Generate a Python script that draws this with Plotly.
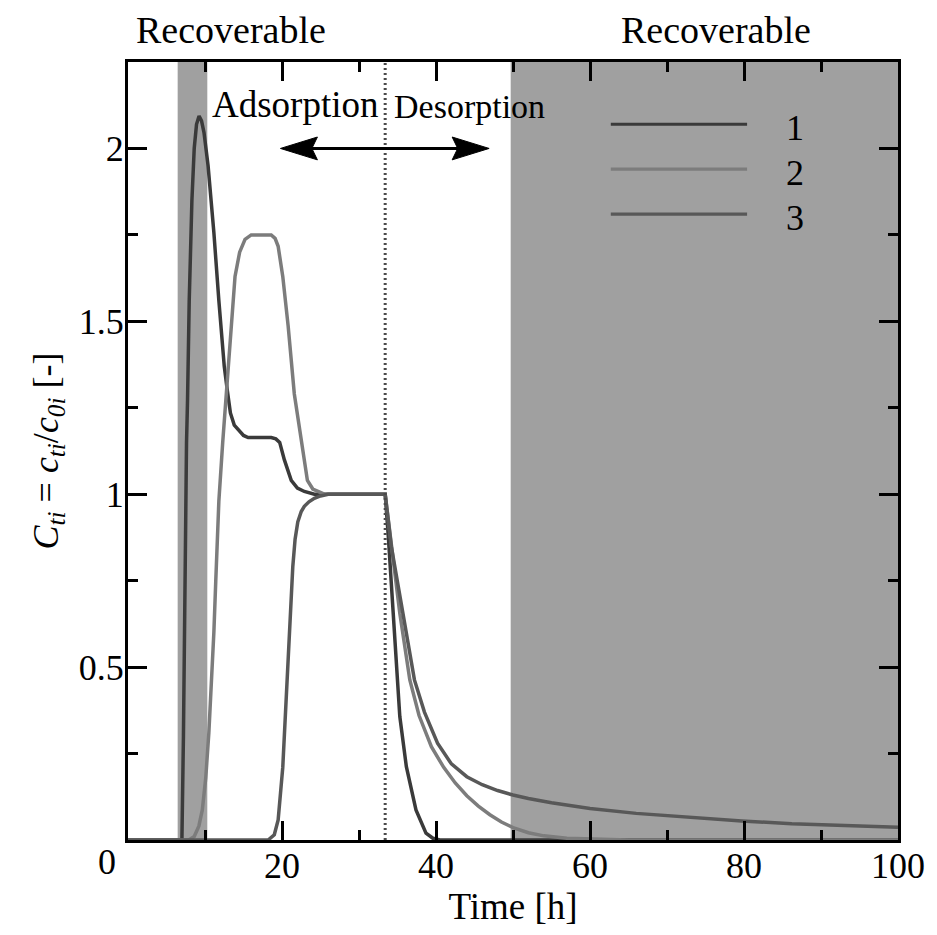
import plotly.graph_objects as go

# Time axis [h] and normalised outlet concentrations C_ti for three components
t1 = [0, 7.0, 7.2, 7.35, 7.45, 7.6, 7.73, 7.95, 8.3, 8.6, 8.9, 9.23, 9.55, 9.87, 10.4,
      11.15, 11.8, 12.5, 12.9, 13.3, 13.8, 14.4, 15.0, 15.6, 18.6, 19.2, 19.7, 20.3,
      21.2, 22.0, 22.9, 24.2, 33.4, 33.8, 34.2, 34.65, 35.3, 36.15, 37.4, 38.7, 39.6,
      40.5, 100]
c1 = [0, 0, 0.30, 0.70, 1.00, 1.15, 1.27, 1.56, 1.85, 2.00, 2.07, 2.094, 2.08, 2.046,
      1.95, 1.757, 1.56, 1.37, 1.30, 1.235, 1.20, 1.185, 1.170, 1.164, 1.164, 1.16,
      1.15, 1.10, 1.04, 1.018, 1.008, 1.0, 1.0, 0.88, 0.743, 0.55, 0.357, 0.212, 0.087,
      0.02, 0.005, 0, 0]

t2 = [0, 7.9, 8.6, 9.2, 9.65, 10.1, 10.5, 10.85, 11.15, 11.4, 11.6, 11.8, 12.3, 12.8,
      13.3, 13.9, 14.5, 15.2, 16.0, 18.6, 19.1, 19.5, 20.1, 20.8, 21.6, 22.5, 23.3,
      24.0, 24.6, 25.5, 33.4, 33.8, 34.2, 35.3, 36.6, 37.8, 39.4, 41.0, 42.5, 44.0,
      45.5, 47.0, 48.5, 50.0, 52.0, 54.0, 57.0, 60.5, 65.0, 100]
c2 = [0, 0, 0.01, 0.04, 0.087, 0.18, 0.31, 0.45, 0.60, 0.75, 0.89, 0.98, 1.15, 1.30,
      1.45, 1.63, 1.70, 1.737, 1.75, 1.75, 1.74, 1.717, 1.63, 1.486, 1.29, 1.15, 1.04,
      1.015, 1.008, 1.0, 1.0, 0.93, 0.849, 0.656, 0.463, 0.36, 0.27, 0.21, 0.165, 0.128,
      0.098, 0.073, 0.052, 0.036, 0.021, 0.012, 0.005, 0.002, 0, 0]

t3 = [0, 18.2, 19.0, 19.5, 20.1, 20.55, 21.0, 21.4, 21.7, 22.05, 22.5, 22.9, 23.5,
      24.2, 25.0, 26.0, 33.4, 33.8, 34.2, 35.7, 37.2, 38.5, 40.2, 42.0, 44.0, 46.0,
      48.0, 50.0, 52.0, 55.0, 60.0, 66.0, 73.3, 79.7, 86.2, 93.0, 100]
c3 = [0, 0, 0.015, 0.058, 0.21, 0.405, 0.60, 0.79, 0.87, 0.92, 0.95, 0.965, 0.978,
      0.988, 0.995, 1.0, 1.0, 0.93, 0.849, 0.656, 0.463, 0.37, 0.28, 0.22, 0.183, 0.16,
      0.143, 0.13, 0.12, 0.108, 0.091, 0.077, 0.065, 0.055, 0.047, 0.042, 0.037]

series_names = ["1", "2", "3"]
series_colors = ["#3a3a3a", "#7c7c7c", "#585858"]

# Shaded "recoverable" windows [h]
recoverable_windows = [(6.45, 10.3), (49.7, 100)]
switch_time = 33.4          # adsorption -> desorption
arrow_span = (19.8, 46.9)   # extent of the double arrow

x_ticks = [20, 40, 60, 80, 100]
y_ticks = [0.5, 1, 1.5, 2]

FONT = "Liberation Serif"
SHADE = "#a0a0a0"

fig = go.Figure()
for t, c, col in zip([t1, t2, t3], [c1, c2, c3], series_colors):
    fig.add_trace(go.Scatter(x=t, y=c, mode="lines",
                             line=dict(color=col, width=3.5), showlegend=False))

shapes = []
for x0, x1 in recoverable_windows:
    shapes.append(dict(type="rect", xref="x", yref="y", x0=x0, x1=x1, y0=0, y1=2.25,
                       fillcolor=SHADE, line=dict(width=0), layer="below"))

shapes.append(dict(type="line", xref="x", yref="y", x0=switch_time, x1=switch_time,
                   y0=0, y1=2.25, line=dict(color="#4a4a4a", width=3, dash="2px,3px")))

# double-headed arrow at C = 2
ay = 2.0
hl, hh = 4.8, 0.033
shapes.append(dict(type="line", xref="x", yref="y", x0=arrow_span[0] + 1, x1=arrow_span[1] - 1,
                   y0=ay, y1=ay, line=dict(color="black", width=3)))
shapes.append(dict(type="path", xref="x", yref="y",
                   path=f"M {arrow_span[0]} {ay} L {arrow_span[0]+hl} {ay+hh} "
                        f"L {arrow_span[0]+hl*0.85} {ay} L {arrow_span[0]+hl} {ay-hh} Z",
                   fillcolor="black", line=dict(color="black", width=1)))
shapes.append(dict(type="path", xref="x", yref="y",
                   path=f"M {arrow_span[1]} {ay} L {arrow_span[1]-hl} {ay+hh} "
                        f"L {arrow_span[1]-hl*0.85} {ay} L {arrow_span[1]-hl} {ay-hh} Z",
                   fillcolor="black", line=dict(color="black", width=1)))

# key: sample lines with labels
key_y = [2.07, 1.94, 1.81]
for yk, col in zip(key_y, series_colors):
    shapes.append(dict(type="line", xref="x", yref="y", x0=62.7, x1=80.4, y0=yk, y1=yk,
                       line=dict(color=col, width=3.2)))

annotations = []
for yk, name in zip(key_y, series_names):
    annotations.append(dict(x=86.6, y=yk - 0.012, xref="x", yref="y", text=name,
                            showarrow=False, font=dict(family=FONT, size=36, color="black")))

annotations += [
    dict(x=13.4, y=1.041, xref="x", yref="paper", yanchor="middle", text="Recoverable",
         showarrow=False, font=dict(family=FONT, size=38, color="black")),
    dict(x=76.3, y=1.041, xref="x", yref="paper", yanchor="middle", text="Recoverable",
         showarrow=False, font=dict(family=FONT, size=38, color="black")),
    dict(x=21.7, y=2.127, xref="x", yref="y", text="Adsorption", showarrow=False,
         font=dict(family=FONT, size=37, color="black")),
    dict(x=44.4, y=2.12, xref="x", yref="y", text="Desorption", showarrow=False,
         font=dict(family=FONT, size=34, color="black")),
    dict(x=0, y=0, xref="x", yref="y", text="0", showarrow=False, xshift=-21, yshift=-22,
         yanchor="middle", font=dict(family=FONT, size=36, color="black")),
]

fig.update_layout(
    width=937, height=935,
    margin=dict(l=128, r=30, t=62, b=95),
    plot_bgcolor="white", paper_bgcolor="white",
    font=dict(family=FONT, size=36, color="black"),
    shapes=shapes, annotations=annotations, showlegend=False,
)

fig.update_xaxes(
    range=[0, 100], tickvals=x_ticks, ticktext=[str(v) for v in x_ticks],
    ticks="inside", ticklen=19, tickwidth=2.5, tickcolor="black",
    minor=dict(ticks="inside", ticklen=10, tickwidth=2.5, tickcolor="black",
               dtick=10, tick0=0, showgrid=False),
    showline=True, linewidth=3, linecolor="black", mirror="ticks",
    showgrid=False, zeroline=False, ticklabelstandoff=-8,
    tickfont=dict(family=FONT, size=36, color="black"),
    title=dict(text="Time [h]", font=dict(family=FONT, size=37, color="black"), standoff=8),
)
fig.update_yaxes(
    range=[0, 2.25], tickvals=y_ticks, ticktext=[f"{v:g}" for v in y_ticks],
    ticks="inside", ticklen=19, tickwidth=2.5, tickcolor="black",
    minor=dict(ticks="inside", ticklen=10, tickwidth=2.5, tickcolor="black",
               dtick=0.25, tick0=0, showgrid=False),
    showline=True, linewidth=3, linecolor="black", mirror="ticks",
    showgrid=False, zeroline=False, ticklabelstandoff=-6,
    tickfont=dict(family=FONT, size=36, color="black"),
    title=dict(text="<i>C<sub>ti</sub></i> = <i>c<sub>ti</sub></i>/<i>c<sub>0i</sub></i> [-]",
               font=dict(family=FONT, size=36, color="black"), standoff=10),
)

fig.write_html("out.html")
